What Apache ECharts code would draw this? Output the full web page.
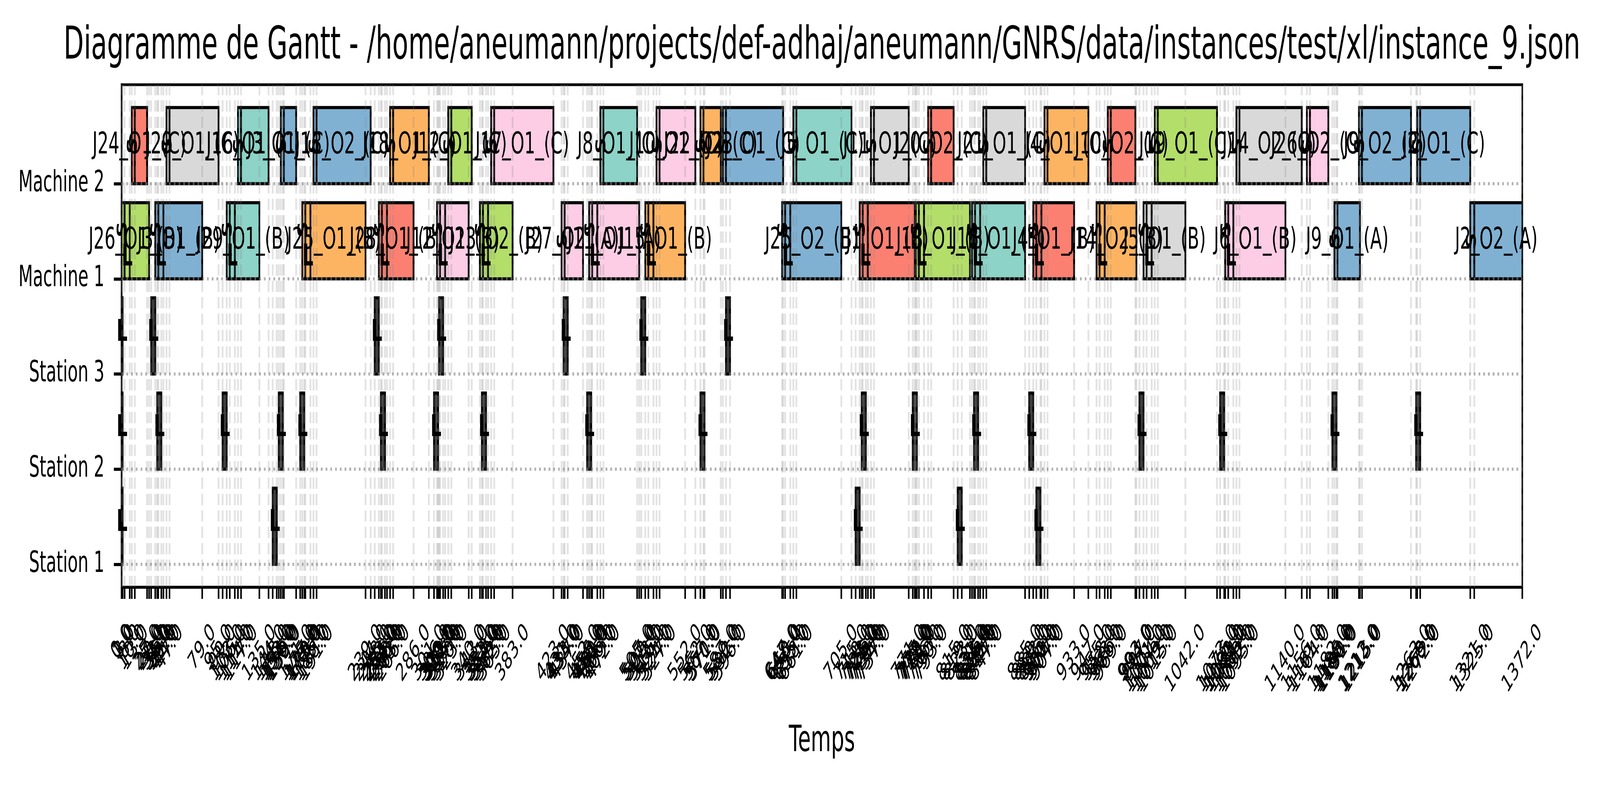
<!DOCTYPE html>
<html>
<head>
<meta charset="utf-8">
<title>Diagramme de Gantt</title>
<script src="https://cdn.jsdelivr.net/npm/echarts@6/dist/echarts.min.js"></script>
<style>
html, body { margin: 0; padding: 0; background: #fff; overflow: hidden; }
#main { width: 7082px; height: 2021px; transform-origin: 0 0; }
</style>
</head>
<body>
<div id="main"></div>
<script>
var titleText = 'Diagramme de Gantt - /home/aneumann/projects/def-adhaj/aneumann/GNRS/data/instances/test/xl/instance_9.json';
var rowNames = ['Station 1', 'Station 2', 'Station 3', 'Machine 1', 'Machine 2'];
var xMax = 1372;

// Set3 colours
var palette = {
    teal: '#8dd3c7', red: '#fb8072', blue: '#80b1d3', orange: '#fdb462',
    green: '#b3de69', pink: '#fccde5', gray: '#d9d9d9'
};

// Machine 2 : start, end of setup, end
var m2Labels = ['J24_O1_(C)', 'J29_O1_(C)', 'J16_O1_(C)', 'J3_O1_(C)', 'J13_O2_(C)', 'J18_O1_(C)',
    'J12_O1_(C)', 'J17_O1_(C)', 'J8_O1_(C)', 'J10_O1_(C)', 'J22_O2_(C)', 'J23_O1_(C)', 'J5_O1_(C)',
    'J11_O1_(C)', 'J20_O2_(C)', 'J21_O1_(C)', 'J4_O1_(C)', 'J10_O2_(C)', 'J19_O1_(C)', 'J14_O2_(C)',
    'J26_O2_(C)', 'J9_O2_(C)', 'J2_O1_(C)'];
var m2Colors = ['red', 'gray', 'teal', 'blue', 'blue', 'orange', 'green', 'pink', 'teal', 'pink', 'orange',
    'blue', 'teal', 'gray', 'red', 'gray', 'orange', 'red', 'green', 'gray', 'pink', 'blue', 'blue'];
var m2Start = [10, 44, 114, 156, 188, 263, 320, 362, 469, 524, 567, 589, 658, 734, 790, 844, 904, 966, 1012, 1092, 1161, 1212, 1269];
var m2SetupEnd = [13, 47, 117, 159, 191, 266, 323, 365, 472, 527, 570, 592, 661, 737, 793, 847, 907, 969, 1015, 1095, 1164, 1215, 1272];
var m2End = [25, 95, 144, 171, 244, 301, 343, 423, 505, 562, 587, 648, 715, 771, 815, 885, 947, 993, 1073, 1156, 1182, 1263, 1321];

// Machine 1 : start, end of setup, end of loading (null = none), end
var m1Labels = ['J26_O1_(B)', 'J3_O1_(B)', 'J29_O1_(B)', 'J25_O1_(B)', 'J28_O1_(B)', 'J12_O1_(B)',
    'J23_O2_(B)', 'J27_O2_(A)', 'J11_O1_(A)', 'J15_O1_(B)', 'J25_O2_(B)', 'J1_O1_(B)', 'J18_O1_(B)',
    'J16_O1_(B)', 'J4_O1_(B)', 'J14_O2_(B)', 'J5_O1_(B)', 'J6_O1_(B)', 'J9_O1_(A)', 'J2_O2_(A)'];
var m1Colors = ['green', 'blue', 'teal', 'orange', 'red', 'pink', 'green', 'pink', 'pink', 'orange',
    'blue', 'red', 'green', 'teal', 'red', 'orange', 'gray', 'pink', 'blue', 'blue'];
var m1Start = [0, 33, 103, 177, 252, 309, 351, 431, 458, 513, 647, 723, 778, 833, 893, 955, 1001, 1081, 1188, 1321];
var m1SetupEnd = [3, 36, 106, 180, 255, 312, 354, 434, 461, 516, 650, 726, 781, 836, 896, 958, 1004, 1084, 1191, 1325];
var m1LoadEnd = [8, 41, 111, 185, 260, 317, 359, null, 466, 521, 655, 731, 786, 841, 901, 963, 1009, 1089, null, null];
var m1End = [27, 79, 135, 239, 286, 340, 383, 452, 507, 552, 705, 777, 831, 885, 933, 994, 1042, 1140, 1213, 1372];

// Stations
var st1Start = [0, 148, 719, 819, 896];
var st1End = [1, 152, 723, 823, 900];
var st2Start = [0, 35, 99, 154, 175, 254, 306, 353, 456, 567, 725, 775, 835, 889, 997, 1076, 1186, 1268];
var st2End = [1, 39, 103, 158, 179, 258, 310, 357, 460, 571, 729, 779, 839, 893, 1001, 1080, 1190, 1272];
var st3Start = [0, 29, 248, 311, 433, 509, 592];
var st3End = [1, 33, 252, 315, 437, 513, 596];

var FONT = '"DejaVu Sans", sans-serif';
var BAR_H = 0.8;
var Y_MIN = -0.24, Y_MAX = 5.04;

// fit the 7082x2021 drawing into whatever viewport we really get
var dom = document.getElementById('main');
var vw = window.innerWidth || 7082, vh = window.innerHeight || 2021;
var sx = vw / 7082, sy = vh / 2021;
if (Math.abs(sx - 1) > 0.002 || Math.abs(sy - 1) > 0.002) {
    dom.style.transform = 'scale(' + sx + ',' + sy + ')';
}

var bars = [];   // [start, end, row, fill]
var texts = [];  // [x, y, text, font, rotation]

function addBar(s, e, row, fill) { bars.push([s, e, row, fill]); }
function addText(x, y, txt, font, rot) { texts.push([x, y, txt, font, rot || 0]); }

for (var i = 0; i < m2Start.length; i++) {
    var c2 = palette[m2Colors[i]];
    addBar(m2Start[i], m2SetupEnd[i], 4, c2);
    addBar(m2SetupEnd[i], m2End[i], 4, c2);
}
for (var j = 0; j < m1Start.length; j++) {
    var c1 = palette[m1Colors[j]];
    addBar(m1Start[j], m1SetupEnd[j], 3, c1);
    if (m1LoadEnd[j] != null) {
        addBar(m1SetupEnd[j], m1LoadEnd[j], 3, c1);
        addBar(m1LoadEnd[j], m1End[j], 3, c1);
    } else {
        addBar(m1SetupEnd[j], m1End[j], 3, c1);
    }
}
var stations = [[st1Start, st1End], [st2Start, st2End], [st3Start, st3End]];
stations.forEach(function (st, row) {
    for (var k = 0; k < st[0].length; k++) {
        addBar(st[0][k], st[1][k], row, '#404040');
        addText((st[0][k] + st[1][k]) / 2, row + 0.43, 'L', 'bold 76px ' + FONT);
    }
});

// labels of machine operations
for (var a = 0; a < m2Start.length; a++) {
    addText((m2Start[a] + m2SetupEnd[a]) / 2, 4.4, 'S', 'bold 58px ' + FONT, Math.PI / 2);
    addText((m2Start[a] + m2End[a]) / 2, 4.4, m2Labels[a], '76px ' + FONT);
}
for (var b = 0; b < m1Start.length; b++) {
    if (m1LoadEnd[b] != null) {
        addText((m1Start[b] + m1SetupEnd[b]) / 2, 3.52, 'S', 'bold 58px ' + FONT, Math.PI / 2);
        addText((m1SetupEnd[b] + m1LoadEnd[b]) / 2, 3.22, 'L', 'bold 76px ' + FONT);
    } else {
        addText((m1Start[b] + m1SetupEnd[b]) / 2, 3.4, 'S', 'bold 58px ' + FONT, Math.PI / 2);
    }
    addText((m1Start[b] + m1End[b]) / 2, 3.4, m1Labels[b], '76px ' + FONT);
}

// every event time gets a tick and a grid line
var tickSet = {0: true};
tickSet[xMax] = true;
[m2Start, m2SetupEnd, m2End, m1Start, m1SetupEnd, m1LoadEnd, m1End,
    st1Start, st1End, st2Start, st2End, st3Start, st3End].forEach(function (arr) {
    arr.forEach(function (v) { if (v != null) tickSet[v] = true; });
});
var ticks = Object.keys(tickSet).map(Number).sort(function (p, q) { return p - q; });

var measureCtx = document.createElement('canvas').getContext('2d');
var TICK_FONT = '63px ' + FONT;
measureCtx.font = TICK_FONT;

var chart = echarts.init(dom, null, {renderer: 'canvas', width: 7082, height: 2021});

var option = {
    animation: false,
    backgroundColor: '#fff',
    grid: {
        left: 538, right: 344, top: 217, bottom: 517,
        show: true, borderColor: '#000', borderWidth: 7,
        backgroundColor: 'transparent', outerBoundsMode: 'none'
    },
    xAxis: {
        type: 'value', min: 0, max: xMax,
        axisLine: {show: true, onZero: false, lineStyle: {color: '#000', width: 7}},
        axisTick: {show: false},
        axisLabel: {show: false},
        splitLine: {show: false}
    },
    yAxis: {
        type: 'value', min: Y_MIN, max: Y_MAX,
        axisLine: {show: true, onZero: false, lineStyle: {color: '#000', width: 7}},
        axisTick: {show: true, customValues: [0, 1, 2, 3, 4], length: 34, lineStyle: {color: '#000', width: 8}},
        axisLabel: {
            show: true, customValues: [0, 1, 2, 3, 4],
            formatter: function (v) { return rowNames[Math.round(v)] || ''; },
            fontSize: 74, fontFamily: FONT, color: '#000', margin: 76
        },
        splitLine: {show: false}
    },
    graphic: [
        {type: 'text', x: 3638, y: 120, style: {text: titleText, font: '116px ' + FONT, fill: '#000',
            align: 'center', textAlign: 'center', verticalAlign: 'middle', textVerticalAlign: 'middle'}},
        {type: 'text', x: 3638, y: 1900, style: {text: 'Temps', font: '92px ' + FONT, fill: '#000',
            align: 'center', textAlign: 'center', verticalAlign: 'middle', textVerticalAlign: 'middle'}}
    ],
    series: [
        {
            type: 'custom', name: 'taches', z: 2,
            data: bars.map(function (d) { return [d[0], d[1], d[2]]; }),
            encode: {x: [0, 1], y: 2},
            renderItem: function (params, api) {
                var p0 = api.coord([api.value(0), api.value(2) + BAR_H]);
                var p1 = api.coord([api.value(1), api.value(2)]);
                return {
                    type: 'rect',
                    shape: {x: p0[0], y: p0[1], width: p1[0] - p0[0], height: p1[1] - p0[1]},
                    style: {fill: bars[params.dataIndex][3], stroke: '#000', lineWidth: 8}
                };
            }
        },
        {
            type: 'custom', name: 'grille x', z: 3, silent: true,
            data: ticks,
            encode: {x: 0},
            renderItem: function (params, api) {
                var top = api.coord([api.value(0), Y_MAX]);
                var bot = api.coord([api.value(0), Y_MIN]);
                return {
                    type: 'line',
                    shape: {x1: bot[0], y1: bot[1], x2: top[0], y2: top[1]},
                    style: {stroke: 'rgba(128,128,128,0.22)', lineWidth: 8, lineDash: [29, 13]}
                };
            }
        },
        {
            type: 'custom', name: 'grille y', z: 3, silent: true,
            data: [[0, 0], [0, 1], [0, 2], [0, 3], [0, 4]],
            encode: {x: 0, y: 1},
            renderItem: function (params, api) {
                var l = api.coord([0, api.value(1)]);
                var r = api.coord([xMax, api.value(1)]);
                return {
                    type: 'line',
                    shape: {x1: l[0], y1: l[1], x2: r[0], y2: r[1]},
                    style: {stroke: 'rgba(128,128,128,0.6)', lineWidth: 8, lineDash: [8, 13]}
                };
            }
        },
        {
            type: 'custom', name: 'etiquettes', z: 4, silent: true, clip: false,
            data: texts.map(function (d) { return [d[0], d[1]]; }),
            encode: {x: 0, y: 1},
            renderItem: function (params, api) {
                var t = texts[params.dataIndex];
                var p = api.coord([api.value(0), api.value(1)]);
                return {
                    type: 'text', x: p[0], y: p[1], rotation: t[4],
                    style: {text: t[2], font: t[3], fill: '#000', align: 'center', verticalAlign: 'middle'}
                };
            }
        },
        {
            type: 'custom', name: 'graduations', z: 5, silent: true, clip: false,
            data: ticks,
            encode: {x: 0},
            renderItem: function (params, api) {
                var p = api.coord([api.value(0), Y_MIN]);
                var txt = api.value(0).toFixed(1);
                var w = measureCtx.measureText(txt).width;
                return {
                    type: 'group',
                    children: [
                        {type: 'line', shape: {x1: p[0], y1: p[1], x2: p[0], y2: p[1] + 30},
                            style: {stroke: '#000', lineWidth: 7}},
                        {type: 'text', x: p[0], y: p[1] + 106 + 0.3536 * w, rotation: Math.PI / 4,
                            style: {text: txt, font: TICK_FONT, fill: '#000', align: 'center', verticalAlign: 'middle'}}
                    ]
                };
            }
        }
    ]
};

chart.setOption(option);
</script>
</body>
</html>
